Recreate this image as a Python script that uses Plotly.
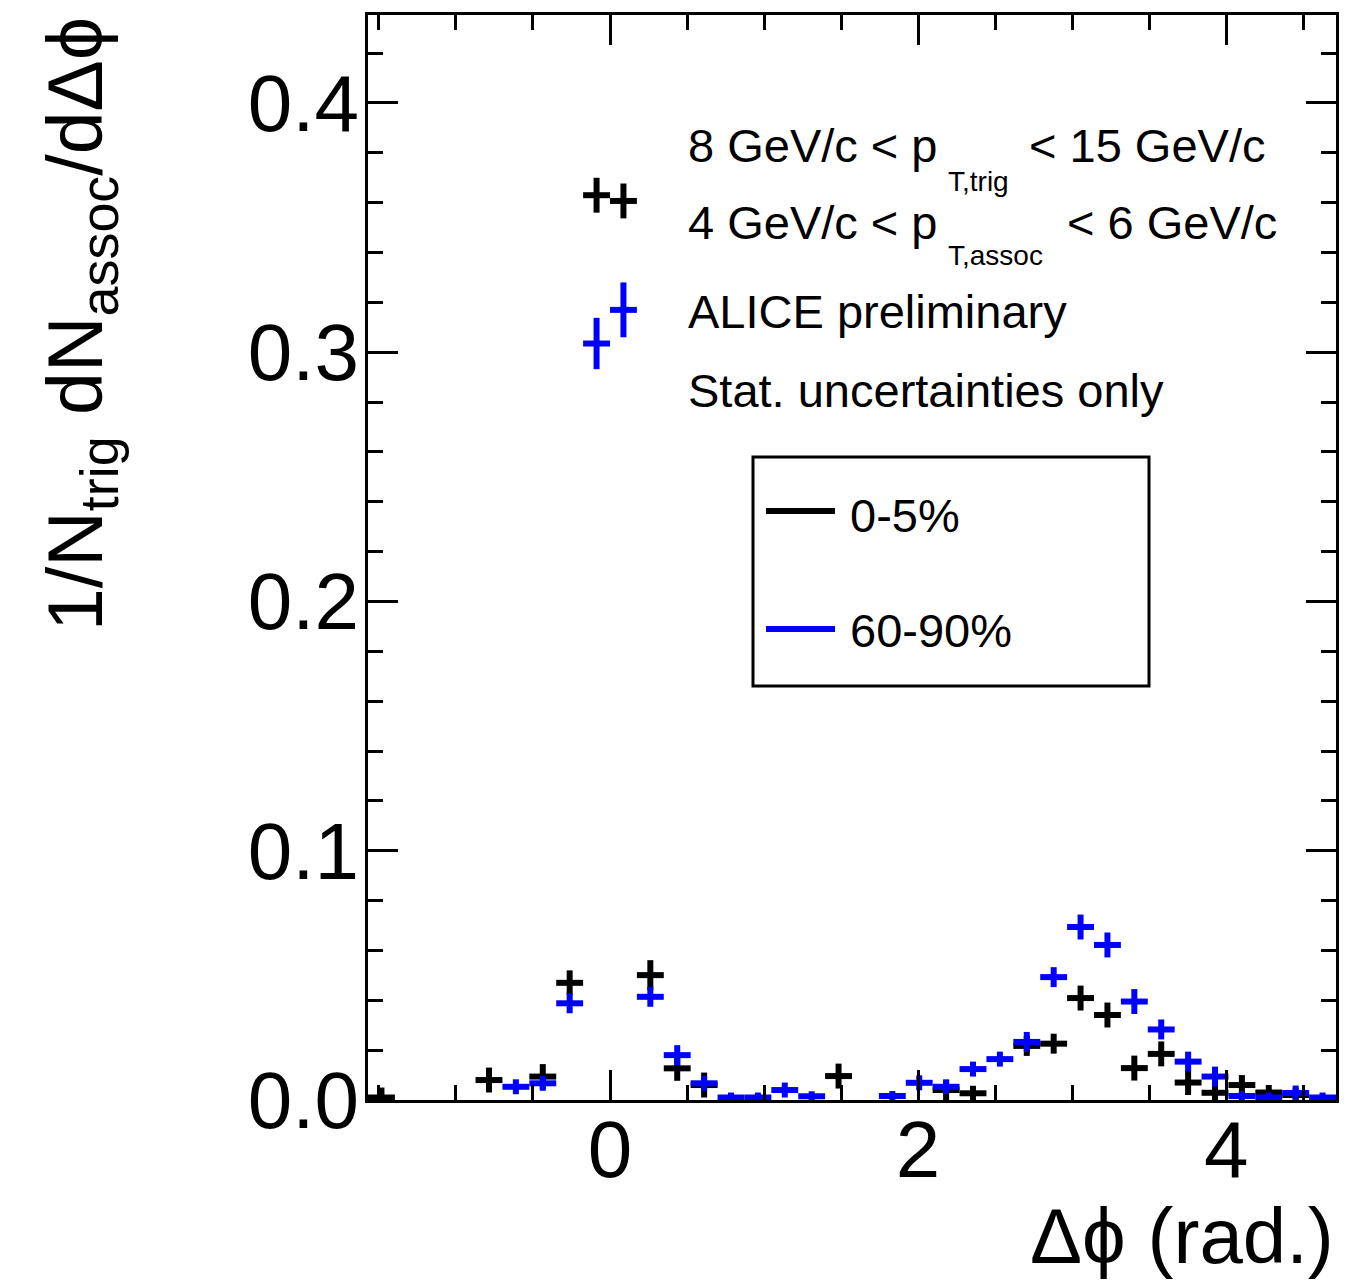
import numpy as np
import plotly.graph_objects as go

# Δϕ binning: 36 bins spanning -π/2 .. 3π/2
N_BINS = 36
PHI_MIN, PHI_MAX = -np.pi / 2, 3 * np.pi / 2
bin_width = (PHI_MAX - PHI_MIN) / N_BINS
dphi = PHI_MIN + (np.arange(N_BINS) + 0.5) * bin_width

# per-trigger associated yield, 0-5% centrality (None = bin not shown)
yield_0_5 = [0.001, None, None, None, 0.008, None, 0.0094, 0.047,
             0.363, 0.3607, 0.0501, 0.0127, 0.006, None, None, None,
             None, 0.0096, None, None, None, 0.004, 0.0027, None,
             0.0217, 0.0226, 0.0409, 0.0341, 0.0128, 0.0185, 0.0070, 0.0029,
             0.006, 0.003, 0.002, None]
err_0_5 = [0.004, 0, 0, 0, 0.005, 0, 0.005, 0.005,
           0.007, 0.007, 0.006, 0.005, 0.005, 0, 0, 0,
           0, 0.005, 0, 0, 0, 0.004, 0.003, 0,
           0.004, 0.004, 0.005, 0.005, 0.005, 0.005, 0.005, 0.004,
           0.004, 0.003, 0.003, 0]

# per-trigger associated yield, 60-90% centrality
yield_60_90 = [None, None, None, None, None, 0.0053, 0.0067, 0.0388,
               0.3035, 0.317, 0.0414, 0.018, 0.0067, 0.001, 0.001, 0.004,
               0.0015, None, None, 0.0016, 0.0069, 0.0053, 0.0124, 0.0164,
               0.0233, 0.0493, 0.0694, 0.0622, 0.0395, 0.0283, 0.0154, 0.0094,
               0.0016, 0.001, 0.0028, 0.001]
err_60_90 = [0, 0, 0, 0, 0, 0.003, 0.003, 0.004,
             0.0103, 0.011, 0.004, 0.004, 0.003, 0.002, 0.002, 0.003,
             0.002, 0, 0, 0.002, 0.003, 0.003, 0.003, 0.003,
             0.004, 0.004, 0.005, 0.005, 0.005, 0.004, 0.004, 0.004,
             0.002, 0.002, 0.003, 0.002]

centralities = ["0-5%", "60-90%"]
colors = ["#000000", "#0000ff"]

FONT = "Liberation Sans, Arial, Helvetica, sans-serif"

fig = go.Figure()
for vals, errs, color in [(yield_0_5, err_0_5, colors[0]),
                          (yield_60_90, err_60_90, colors[1])]:
    fig.add_trace(go.Scatter(
        x=dphi, y=vals, mode="markers",
        marker=dict(size=0, color=color),
        error_x=dict(type="constant", value=bin_width / 2, width=0,
                     thickness=6, color=color),
        error_y=dict(type="data", array=errs, width=0,
                     thickness=6, color=color),
        showlegend=False, hoverinfo="skip",
    ))

# plot-area geometry in pixels (used to place free text and the legend box)
L, R, T, B = 368, 1336, 15, 1100


def px(x):
    return (x - L) / (R - L)


def py(y):
    return (B - y) / (B - T)


axis_common = dict(
    ticks="inside", ticklen=30, tickwidth=3, tickcolor="black",
    showline=True, linewidth=3, linecolor="black", mirror="ticks",
    showgrid=False, zeroline=False,
    tickfont=dict(family=FONT, size=80, color="black"),
)

fig.update_layout(
    width=1356, height=1283,
    margin=dict(l=L, r=1356 - R, t=T, b=1283 - B),
    paper_bgcolor="white", plot_bgcolor="white",
    xaxis=dict(range=[PHI_MIN, PHI_MAX], tick0=0, dtick=2,
               minor=dict(tick0=0, dtick=0.5, ticks="inside", ticklen=15,
                          tickwidth=3, tickcolor="black"),
               ticklabelstandoff=-22,
               **axis_common),
    yaxis=dict(range=[0, 0.4353], tick0=0, dtick=0.1, tickformat=".1f",
               minor=dict(tick0=0, dtick=0.02, ticks="inside", ticklen=15,
                          tickwidth=3, tickcolor="black"),
               ticklabelstandoff=-10,
               **axis_common),
)

ann = []
txt = dict(family=FONT, size=47, color="black")
sub = dict(family=FONT, size=28, color="black")


def label(x, y, text, font, anchor="left"):
    ann.append(dict(x=px(x), y=py(y), xref="paper", yref="paper", text=text,
                    showarrow=False, xanchor=anchor, yanchor="middle",
                    font=font))


label(686, 145, "8 GeV/c < p", txt)
label(946, 181, "T,trig", sub)
label(1027, 145, "< 15 GeV/c", txt)
label(686, 222, "4 GeV/c < p", txt)
label(946, 255, "T,assoc", sub)
label(1065, 222, "< 6 GeV/c", txt)
label(686, 312, "ALICE preliminary", txt)
label(686, 391, "Stat. uncertainties only", txt)
label(848, 515, centralities[0], txt)
label(848, 630, centralities[1], txt)

# axis titles
ann.append(dict(x=px(1336), y=py(1236), xref="paper", yref="paper",
                text="Δϕ (rad.)", showarrow=False, xanchor="right",
                yanchor="middle", font=dict(family=FONT, size=78, color="black")))
ann.append(dict(x=px(80), y=py(15), xref="paper", yref="paper",
                text="1/N<sub>trig</sub> dN<sub>assoc</sub>/dΔϕ",
                textangle=-90, showarrow=False, xanchor="center",
                yanchor="top", font=dict(family=FONT, size=77, color="black")))

shapes = [
    dict(type="rect", xref="paper", yref="paper",
         x0=px(753), x1=px(1149), y0=py(686), y1=py(457),
         line=dict(color="black", width=3), fillcolor="white", layer="below"),
    dict(type="line", xref="paper", yref="paper",
         x0=px(766), x1=px(835), y0=py(511), y1=py(511),
         line=dict(color=colors[0], width=6)),
    dict(type="line", xref="paper", yref="paper",
         x0=px(766), x1=px(835), y0=py(629), y1=py(629),
         line=dict(color=colors[1], width=6)),
]

fig.update_layout(annotations=ann, shapes=shapes)
fig.write_html("out.html")
